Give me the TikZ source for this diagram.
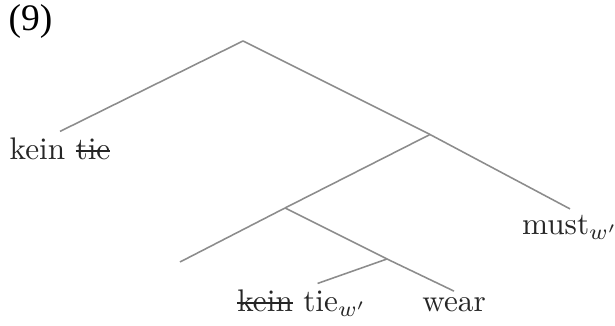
\documentclass[tikz,border=0pt]{standalone}
\usepackage{fontspec}
\newfontfamily\exnumfont{Liberation Serif}
\usepackage{tikz}
\newcommand{\crossout}[1]{\setbox0\hbox{#1}\rlap{\rule[0.6ex]{\wd0}{0.5pt}}\box0\relax}

\begin{document}
\begin{tikzpicture}[
  x=0.32pt, y=-0.32pt,
  every node/.style={font=\normalsize, text=black!85},
  leaf/.style={inner sep=2pt},
  branch/.style={draw=black!45, line width=0.5pt},
]
\useasboundingbox (0,0) rectangle (615,326);

% Example number
\node[anchor=west, inner sep=0pt, text=black] (exnum) at (8,21) {\exnumfont\fontsize{12pt}{14pt}\selectfont (9)};

% Inner points
\coordinate (root) at (243,41);
\coordinate (ma) at (430,134.5);
\coordinate (mb) at (285,208);
\coordinate (mc) at (387,259);
\coordinate (gap) at (180,262);

% Leaves
\node[leaf, anchor=base] (kt) at (60,160) {kein \crossout{tie}};
\node[leaf, anchor=base] (must) at (570,235) {must$_{w'}$};
\node[leaf, anchor=base] (ktw) at (302,312) {\crossout{kein} tie$_{w'}$};
\node[leaf, anchor=base] (wear) at (454,312) {wear};

% Branches
\draw[branch] (root) -- (kt.north);
\draw[branch] (root) -- (ma) -- (must.north);
\draw[branch] (ma) -- (mb);
\draw[branch] (mb) -- (gap);
\draw[branch] (mb) -- (mc) -- (wear.north);
\draw[branch] (mc) -- ([xshift=5pt]ktw.north);

\end{tikzpicture}
\end{document}
